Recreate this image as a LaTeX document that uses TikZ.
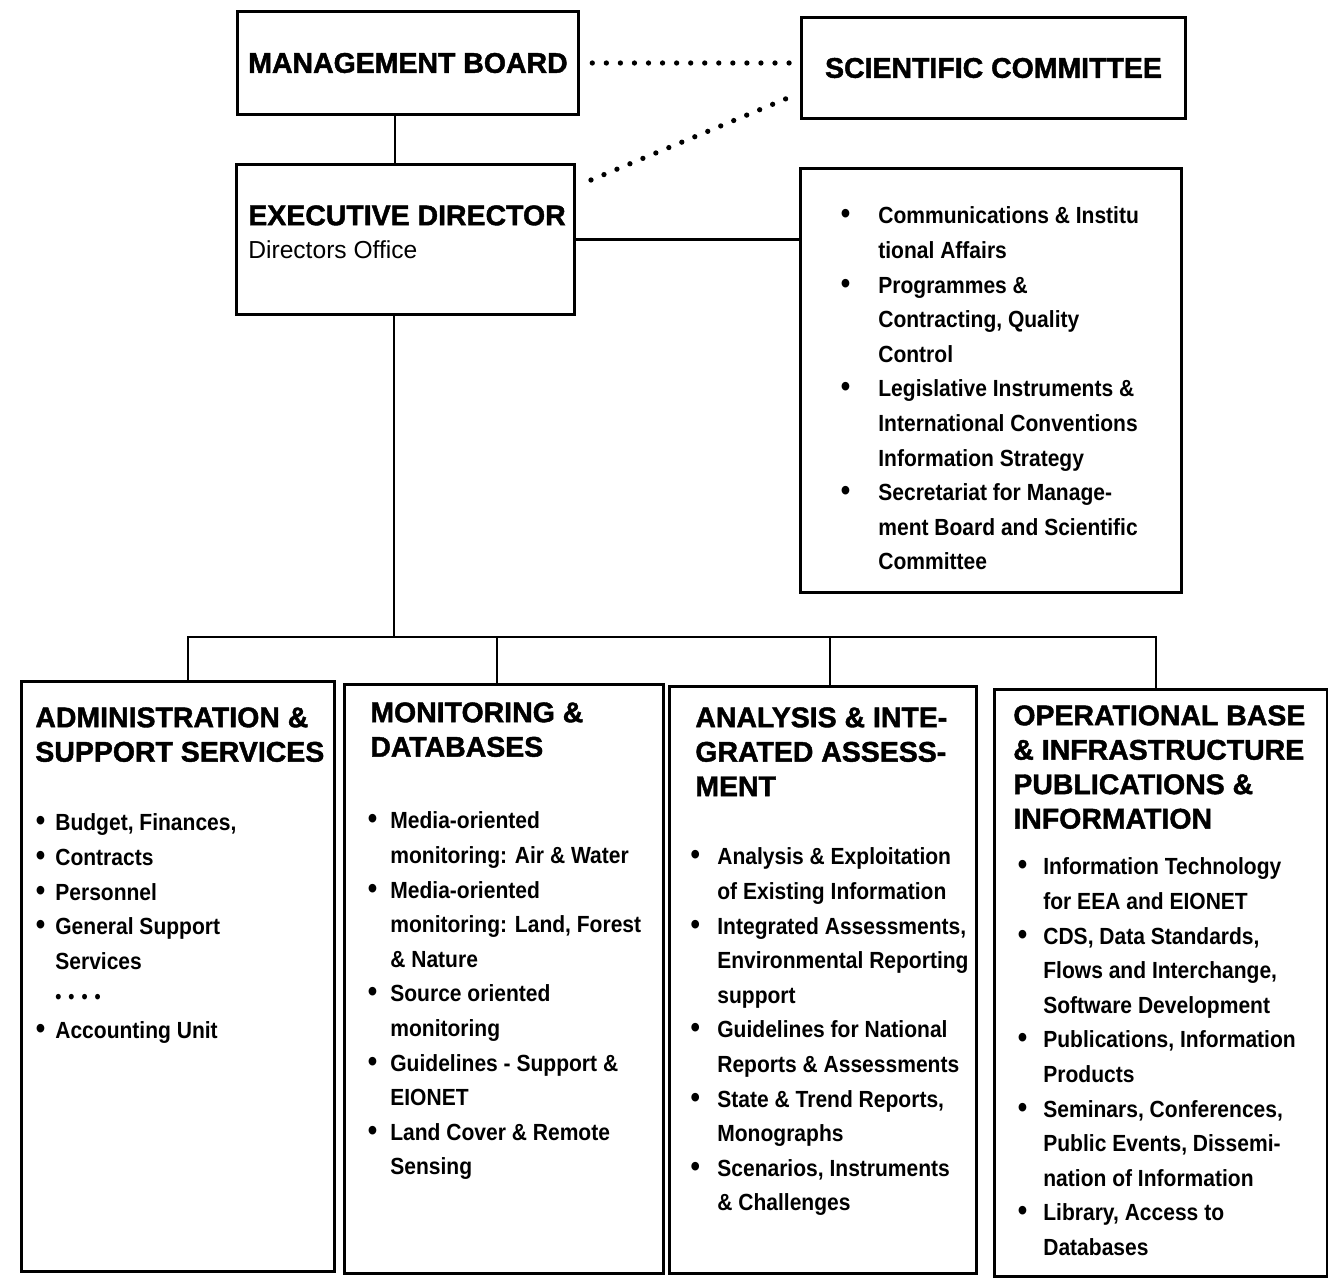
\documentclass[tikz,border=0pt]{standalone}
\usepackage{fontspec}
\setmainfont{Liberation Sans}
\newfontfamily\bodyfont[FakeStretch=0.9]{Liberation Sans}
\newfontfamily\headfont[RawFeature={embolden=1.5}]{Liberation Sans Bold}
\usetikzlibrary{calc}

\newcommand{\pxu}{0.02cm}
\newcommand{\bu}[1]{\llap{{\fontsize{17}{17}\selectfont\textbullet}\hspace{#1}}}

\begin{document}
\begin{tikzpicture}[x=0.02cm, y=-0.02cm,
  box/.style={draw, line width=1.7pt, anchor=north west, inner sep=0pt},
  title/.style={font=\headfont\fontsize{16.2}{19.6}\selectfont},
  conn/.style={line width=1.4pt},
  dotline/.style={line width=3pt, line cap=round, dash pattern=on 0pt off 8pt},
  head/.style={anchor=north west, inner sep=0pt, align=left, font=\headfont\fontsize{16.2}{19.6}\selectfont},
  items/.style={anchor=north west, inner sep=0pt, align=left, font=\bodyfont\bfseries\fontsize{13.3}{19.7}\selectfont}]

  \useasboundingbox (0,0) rectangle (1328,1278);

  % top
  \node[box, title, minimum width=341*\pxu, minimum height=103*\pxu] (mb) at (236,10) {MANAGEMENT BOARD};
  \node[box, title, minimum width=384*\pxu, minimum height=101*\pxu] (sc) at (800,16) {SCIENTIFIC COMMITTEE};

  \node[box, minimum width=338*\pxu, minimum height=150*\pxu] (ed) at (235,163) {};
  \node[head] (edhead) at (248,205) {EXECUTIVE DIRECTOR};
  \node[anchor=north west, inner sep=0pt, font=\fontsize{14}{18}\selectfont] (edsub) at (248,240) {Directors Office};

  \node[box, minimum width=381*\pxu, minimum height=424*\pxu] (offc) at (799,167) {};
  \node[items] (offclist) at (878,206.5) {%
    \bu{16pt}Communications \& Institu\\
    tional Affairs\\
    \bu{16pt}Programmes \&\\
    Contracting, Quality\\
    Control\\
    \bu{16pt}Legislative Instruments \&\\
    International Conventions\\
    Information Strategy\\
    \bu{16pt}Secretariat for Manage-\\
    ment Board and Scientific\\
    Committee};

  % links top
  \draw[dotline] ([xshift=7pt]mb.east) -- ([xshift=-3pt]mb.east -| sc.west);
  \draw[dotline] ([shift={(15,17)}]ed.north east) -- ([shift={(-5,-25)}]sc.south west);
  \coordinate (edup) at ($(ed.north west)!0.47!(ed.north east)$);
  \draw[conn] (edup) -- (edup |- mb.south);
  \draw[conn] (ed.east) -- (ed.east -| offc.west);

  % departments
  \node[box, minimum width=313*\pxu, minimum height=590*\pxu] (adm) at (20,680) {};
  \node[head] (admhead) at (35,707) {ADMINISTRATION \&\\SUPPORT SERVICES};
  \node[items] (admlist) at (55,813.5) {%
    \bu{5.8pt}Budget, Finances,\\
    \bu{5.8pt}Contracts\\
    \bu{5.8pt}Personnel\\
    \bu{5.8pt}General Support\\
    Services\\
    {\fontsize{11}{11}\selectfont\textbullet\hspace{4pt}\textbullet\hspace{4pt}\textbullet\hspace{4pt}\textbullet}\\
    \bu{5.8pt}Accounting Unit};

  \node[box, minimum width=319*\pxu, minimum height=589*\pxu] (mon) at (343,683) {};
  \node[head] (monhead) at (370,702) {MONITORING \&\\DATABASES};
  \node[items] (monlist) at (390,811.5) {%
    \bu{7.5pt}Media-oriented\\
    monitoring: Air \& Water\\
    \bu{7.5pt}Media-oriented\\
    monitoring: Land, Forest\\
    \& Nature\\
    \bu{7.5pt}Source oriented\\
    monitoring\\
    \bu{7.5pt}Guidelines - Support \&\\
    EIONET\\
    \bu{7.5pt}Land Cover \& Remote\\
    Sensing};

  \node[box, minimum width=307*\pxu, minimum height=587*\pxu] (ana) at (668,685) {};
  \node[head] (anahead) at (695,707) {ANALYSIS \& INTE-\\GRATED ASSESS-\\MENT};
  \node[items] (analist) at (717,847.5) {%
    \bu{9.8pt}Analysis \& Exploitation\\
    of Existing Information\\
    \bu{9.8pt}Integrated Assessments,\\
    Environmental Reporting\\
    support\\
    \bu{9.8pt}Guidelines for National\\
    Reports \& Assessments\\
    \bu{9.8pt}State \& Trend Reports,\\
    Monographs\\
    \bu{9.8pt}Scenarios, Instruments\\
    \& Challenges};

  \node[box, minimum width=333*\pxu, minimum height=587*\pxu] (ops) at (993,688) {};
  \node[head] (opshead) at (1013,705) {OPERATIONAL BASE\\\& INFRASTRUCTURE\\PUBLICATIONS \&\\INFORMATION};
  \node[items] (opslist) at (1043,857.5) {%
    \bu{9.2pt}Information Technology\\
    for EEA and EIONET\\
    \bu{9.2pt}CDS, Data Standards,\\
    Flows and Interchange,\\
    Software Development\\
    \bu{9.2pt}Publications, Information\\
    Products\\
    \bu{9.2pt}Seminars, Conferences,\\
    Public Events, Dissemi-\\
    nation of Information\\
    \bu{9.2pt}Library, Access to\\
    Databases};

  % tree
  \coordinate (bus) at (0,637);
  \coordinate (edlow) at ($(ed.south west)!0.467!(ed.south east)$);
  \coordinate (dadm) at ([shift={(10,0)}]adm.north);
  \coordinate (dmon) at ([shift={(-7,0)}]mon.north);
  \coordinate (dana) at ([shift={(7,0)}]ana.north);
  \coordinate (dops) at ([shift={(-5,0)}]ops.north);
  \draw[conn] (edlow) -- (edlow |- bus);
  \draw[conn] (dadm) -- (dadm |- bus) -- (dops |- bus) -- (dops);
  \draw[conn] (dmon) -- (dmon |- bus);
  \draw[conn] (dana) -- (dana |- bus);
\end{tikzpicture}
\end{document}
